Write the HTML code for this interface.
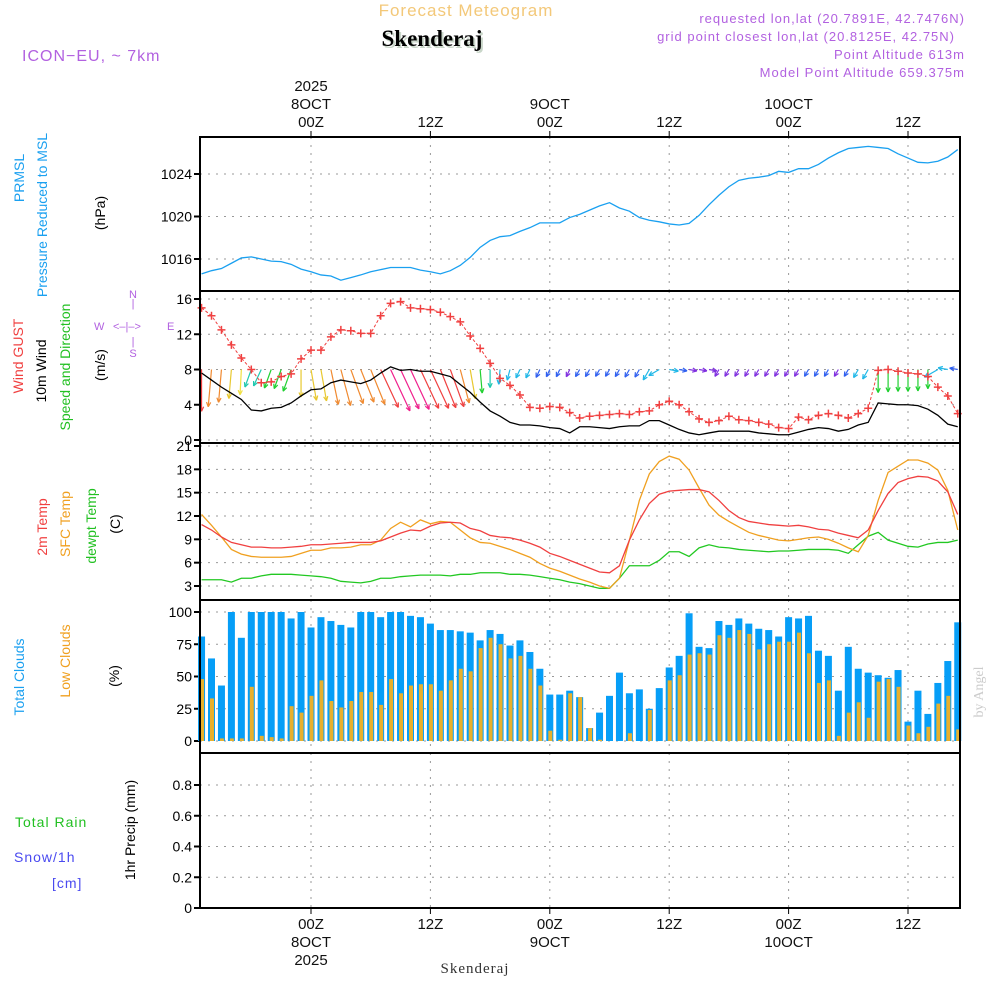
<!DOCTYPE html>
<html><head><meta charset="utf-8"><style>
html,body{margin:0;padding:0;background:#fff;width:1000px;height:1000px;overflow:hidden}
svg{display:block}
text{font-family:"Liberation Sans",sans-serif}
.mono{font-family:"Liberation Sans",sans-serif;letter-spacing:1px}
</style></head><body>
<svg id="chart" width="1000" height="1000" viewBox="0 0 1000 1000" xmlns="http://www.w3.org/2000/svg">
<text x="466" y="16" text-anchor="middle" font-size="17" fill="#f3c879" class="mono">Forecast Meteogram</text>
<text x="434" y="48" text-anchor="middle" font-size="23" font-weight="bold" fill="#c9d6c9" style="font-family:'Liberation Serif',serif">Skenderaj</text>
<text x="432" y="46" text-anchor="middle" font-size="23" font-weight="bold" fill="#000" style="font-family:'Liberation Serif',serif">Skenderaj</text>
<text x="22" y="61" font-size="16" fill="#b261e0" class="mono">ICON−EU, ~ 7km</text>
<g font-size="13" fill="#b261e0" text-anchor="end" class="mono">
<text x="965" y="23">requested lon,lat (20.7891E, 42.7476N)</text>
<text x="955" y="41">grid point closest lon,lat (20.8125E, 42.75N)</text>
<text x="965" y="59">Point Altitude 613m</text>
<text x="965" y="77">Model Point Altitude 659.375m</text>
</g>
<g id="plot"></g>
<g font-size="14">
<text transform="translate(24,178) rotate(-90)" text-anchor="middle" fill="#1aa0f0">PRMSL</text>
<text transform="translate(47,215) rotate(-90)" text-anchor="middle" fill="#1aa0f0">Pressure Reduced to MSL</text>
<text transform="translate(105,213) rotate(-90)" text-anchor="middle" fill="#000">(hPa)</text>
<text transform="translate(23,356) rotate(-90)" text-anchor="middle" fill="#f04040">Wind GUST</text>
<text transform="translate(46,371) rotate(-90)" text-anchor="middle" fill="#000">10m Wind</text>
<text transform="translate(70,367) rotate(-90)" text-anchor="middle" fill="#22c022">Speed and Direction</text>
<text transform="translate(105,365) rotate(-90)" text-anchor="middle" fill="#000">(m/s)</text>
<text transform="translate(47,527) rotate(-90)" text-anchor="middle" fill="#f04040">2m Temp</text>
<text transform="translate(70,524) rotate(-90)" text-anchor="middle" fill="#f0a020">SFC Temp</text>
<text transform="translate(96,526) rotate(-90)" text-anchor="middle" fill="#22c022">dewpt Temp</text>
<text transform="translate(120,524) rotate(-90)" text-anchor="middle" fill="#000">(C)</text>
<text transform="translate(24,677) rotate(-90)" text-anchor="middle" fill="#1aa0f0">Total Clouds</text>
<text transform="translate(70,661) rotate(-90)" text-anchor="middle" fill="#f0a020">Low Clouds</text>
<text transform="translate(119,676) rotate(-90)" text-anchor="middle" fill="#000">(%)</text>
<text x="15" y="827" fill="#22c022" class="mono">Total  Rain</text>
<text x="14" y="862" fill="#4a4af0" class="mono">Snow/1h</text>
<text x="52" y="888" fill="#4a4af0" class="mono">[cm]</text>
<text transform="translate(135,830) rotate(-90)" text-anchor="middle" fill="#000">1hr Precip (mm)</text>
<text transform="translate(983,692) rotate(-90)" text-anchor="middle" fill="#ccc" style="font-family:'Liberation Serif',serif" font-size="14">by Angel</text>
<text x="475" y="973" text-anchor="middle" fill="#333" style="font-family:'Liberation Serif',serif" font-size="15" letter-spacing="1">Skenderaj</text>
</g>
<g fill="#b261e0" font-size="11">
<text x="133" y="298" text-anchor="middle">N</text>
<text x="133" y="307" text-anchor="middle">|</text>
<text x="94" y="330">W</text>
<text x="113" y="330">&lt;–|–&gt;</text>
<text x="167" y="330">E</text>
<text x="133" y="345" text-anchor="middle">|</text>
<text x="133" y="357" text-anchor="middle">S</text>
</g>
</svg>
<script>
const hours=[];for(let h=-11;h<=65;h++)hours.push(h);
const pressure=[1014.6,1014.9,1015.1,1015.6,1016.1,1016.2,1016.0,1015.8,1015.75,1015.5,1015.05,1014.8,1014.5,1014.4,1014.0,1014.25,1014.5,1014.8,1015.0,1015.2,1015.2,1015.2,1014.95,1014.8,1014.6,1014.9,1015.4,1016.15,1017.1,1017.75,1018.1,1018.2,1018.6,1018.95,1019.4,1019.4,1019.4,1019.9,1020.2,1020.6,1021.0,1021.3,1020.8,1020.5,1019.9,1019.65,1019.5,1019.3,1019.2,1019.35,1020.1,1021.1,1022.0,1022.8,1023.4,1023.6,1023.7,1023.85,1024.25,1024.15,1024.5,1024.5,1024.9,1025.5,1026.0,1026.4,1026.5,1026.6,1026.5,1026.4,1025.9,1025.5,1025.1,1025.05,1025.2,1025.6,1026.3];
const gust=[15.0,14.1,12.5,10.8,9.3,8.0,6.5,6.6,7.2,7.5,9.2,10.2,10.2,11.7,12.5,12.4,12.1,12.1,14.1,15.5,15.7,15.0,14.9,14.8,14.5,14.0,13.4,11.8,10.4,8.7,7.0,6.2,5.1,3.7,3.6,3.8,3.7,3.1,2.5,2.7,2.8,2.9,3.0,2.9,3.2,3.3,4.0,4.4,4.0,3.2,2.4,2.0,2.2,2.7,2.3,2.2,2.0,1.8,1.4,1.3,2.6,2.3,2.8,3.0,2.8,2.5,3.0,3.6,7.9,8.0,7.8,7.6,7.5,7.2,6.0,5.0,3.0];
const wind=[7.6,6.8,6.0,5.3,4.6,3.4,3.3,3.6,3.7,4.2,5.0,5.7,5.8,6.5,6.8,6.6,6.4,6.8,7.6,8.3,7.9,8.0,7.8,7.8,7.5,7.2,6.3,5.4,4.3,3.3,2.7,2.0,1.7,1.7,1.6,1.4,1.3,0.8,1.5,1.5,1.4,1.3,1.5,1.6,1.6,2.2,2.2,1.7,1.2,0.8,0.6,0.8,1.0,1.0,1.0,1.0,0.8,0.7,0.6,0.6,0.9,1.2,1.4,1.3,1.0,1.2,1.7,2.0,4.2,4.1,4.0,4.0,3.9,3.5,2.8,1.8,1.5];
const windDir=[0,-5,-5,-5,-3,-20,-25,-20,-20,-20,0,10,10,12,15,20,22,22,25,25,25,25,25,25,22,20,15,10,5,0,-5,-15,-25,-25,-25,-25,-25,-25,-30,-30,-30,-30,-30,-30,-30,-30,-60,80,80,80,80,80,-30,-30,-30,-30,-30,-30,-30,-30,-30,-30,-30,-30,-30,-30,-30,-30,0,0,0,0,0,0,-60,-100,-100];
const t2m=[10.9,10.2,9.3,8.6,8.3,8.0,8.0,7.9,7.9,8.0,8.1,8.3,8.3,8.4,8.5,8.6,8.6,8.6,8.8,9.3,9.8,10.2,10.1,10.7,11.1,11.2,11.1,10.4,10.1,9.5,9.3,9.2,8.9,8.5,8.0,7.2,6.8,6.3,5.8,5.3,4.8,4.7,5.6,8.9,11.5,13.6,14.8,15.2,15.3,15.4,15.4,15.1,14.0,12.7,11.8,11.3,11.1,10.9,10.8,10.7,10.8,10.6,10.3,10.2,9.8,9.5,9.2,10.2,12.7,14.9,16.3,16.8,17.1,17.0,16.5,15.1,12.2];
const tsfc=[12.2,10.8,9.3,7.7,7.1,6.8,6.7,6.7,6.7,6.8,7.2,7.6,7.6,7.9,7.9,8.0,8.3,8.3,8.9,10.4,11.2,10.6,11.5,11.0,11.3,11.2,10.2,9.2,8.6,8.5,8.1,7.7,7.2,6.7,5.9,5.3,4.9,4.4,3.9,3.5,3.0,2.7,4.0,8.9,14.0,17.4,19.0,19.7,19.3,17.9,15.6,13.4,12.1,11.3,10.6,9.9,9.5,9.2,8.9,8.8,9.0,9.2,9.3,9.0,8.5,7.9,7.4,9.5,14.0,17.6,18.4,19.2,19.2,18.8,17.9,15.3,10.2];
const dewpt=[3.8,3.8,3.8,3.5,4.0,4.0,4.3,4.5,4.5,4.5,4.4,4.3,4.2,4.0,3.6,3.5,3.4,3.6,4.0,4.0,4.2,4.3,4.4,4.4,4.4,4.3,4.5,4.5,4.7,4.7,4.7,4.5,4.5,4.4,4.2,4.0,3.8,3.5,3.3,3.0,2.7,2.7,4.0,5.6,5.6,5.6,6.3,7.4,7.4,6.8,7.9,8.3,8.0,7.9,7.7,7.6,7.5,7.4,7.5,7.5,7.6,7.7,7.7,7.7,7.6,7.2,8.3,9.4,9.9,8.9,8.5,8.1,8.0,8.4,8.6,8.6,8.9];
const totalClouds=[81,64,43,100,80,100,100,100,100,95,100,88,96,93,90,88,100,100,96,100,100,97,96,91,86,86,85,84,78,86,83,74,78,69,56,36,36,39,34,10,22,35,53,37,40,25,41,57,66,99,73,72,93,90,95,91,87,86,81,96,95,97,70,66,39,73,56,53,51,49,55,15,39,21,45,62,92];
const lowClouds=[48,33,2,2,2,42,4,3,2,27,22,35,47,31,26,31,38,38,28,48,37,43,44,44,39,47,56,54,72,80,75,64,66,56,43,8,1,37,34,10,1,0,0,6,0,24,0,47,51,67,68,67,82,80,86,83,71,75,77,77,84,68,45,47,4,22,30,18,46,48,42,12,6,11,29,35,9];
const precip=hours.map(()=>0);
const pTicks=[1016,1020,1024], wTicks=[0,4,8,12,16], tTicks=[3,6,9,12,15,18,21], cTicks=[0,25,50,75,100], rTicks=[0,0.2,0.4,0.6,0.8];
const topLabels=[[0,'00Z','8OCT','2025'],[12,'12Z'],[24,'00Z','9OCT'],[36,'12Z'],[48,'00Z','10OCT'],[60,'12Z']];

const NS='http://www.w3.org/2000/svg';
const plot=document.getElementById('plot');
function mk(tag,attrs,parent){const e=document.createElementNS(NS,tag);for(const k in attrs)e.setAttribute(k,attrs[k]);(parent||plot).appendChild(e);return e;}
const X0=200,X1=960;
const xS=h=>311+h*9.95;
const lin=(v0,y0,v1,y1)=>v=>y0+(v-v0)*(y1-y0)/(v1-v0);
const yP=lin(1016,259,1024,174), yW=lin(0,440,16,299), yT=lin(3,586,21,446), yC=lin(0,741,100,612), yR=lin(0,908,0.8,785);
const panels=[[137,291,yP,pTicks,'pressure'],[291,443,yW,wTicks,'wind'],[443,600,yT,tTicks,'temperature'],[600,753,yC,cTicks,'clouds'],[753,908,yR,rTicks,'precip']];
const grid=mk('g',{});


for(const [top,bot,ys,ticks,nm] of panels){
  for(let h=0;h<=60;h+=12){mk('line',{x1:xS(h),x2:xS(h),y1:top,y2:bot,stroke:'#999','stroke-dasharray':'2,6'},grid);}
  for(const t of ticks){
    mk('line',{x1:X0,x2:X1,y1:ys(t),y2:ys(t),stroke:'#999','stroke-dasharray':'2,6'},grid);
    mk('line',{x1:X0-6,x2:X0,y1:ys(t),y2:ys(t),stroke:'#000','stroke-width':2},grid);
    const tx=mk('text',{x:X0-8,y:ys(t)+5,'text-anchor':'end','font-size':14},grid);
    
    
    tx.textContent=t;
  }
}
const cg=mk('g',{});


hours.forEach((h,i)=>{
  const x=xS(h);
  const b=mk('rect',{x:x-3.5,y:yC(totalClouds[i]),width:7,height:yC(0)-yC(totalClouds[i]),fill:'#069ef7'},cg);
  
  
  const l=mk('rect',{x:x-1.5,y:yC(lowClouds[i]),width:4,height:yC(0)-yC(lowClouds[i]),fill:'#e8b02c'},cg);
  
  
});
function line(arr,ys,col,name,w){
  const p=mk('polyline',{points:hours.map((h,i)=>xS(h)+','+ys(arr[i])).join(' '),fill:'none',stroke:col,'stroke-width':w||1.3});
  
  
  return p;
}
line(pressure,yP,'#1aa0f0','pressure-line');
line(precip,yR,'#000','precip-line',1.5).setAttribute('stroke-dasharray','4,2');
function spdCol(s){if(s>=7.9)return '#f0208c';if(s>=7)return '#f04040';if(s>=6)return '#f08a30';if(s>=5)return '#e8c830';if(s>=4.5)return '#f0e040';if(s>=3.5)return '#20d030';if(s>=3)return '#20c8b0';if(s>=1.7)return '#20b8e8';if(s>=1.1)return '#3060f0';return '#8030e0';}
const ag=mk('g',{});


hours.forEach((h,i)=>{
  const L=Math.max(8,wind[i]*5.5),a=windDir[i]*Math.PI/180,x=xS(h),y=yW(8);
  const ex=x+Math.sin(a)*L,ey=y+Math.cos(a)*L,c=spdCol(wind[i]);
  const g=mk('g',{stroke:c,fill:'none','stroke-width':1.2},ag);
  
  
  mk('line',{x1:x,y1:y,x2:ex,y2:ey},g);
  const ang=Math.atan2(ey-y,ex-x);
  for(const d of [2.6,-2.6]) mk('line',{x1:ex,y1:ey,x2:ex-5*Math.cos(ang+d/6),y2:ey-5*Math.sin(ang+d/6)},g);
});
line(wind,yW,'#000','wind-speed-line');
line(gust,yW,'#f04040','wind-gust-line',1).setAttribute('stroke-dasharray','3,2');
const gm=mk('g',{stroke:'#f04040','stroke-width':1.5});


hours.forEach((h,i)=>{const x=xS(h),y=yW(gust[i]);mk('path',{d:`M${x-4} ${y}H${x+4}M${x} ${y-4}V${y+4}`},gm);});
line(dewpt,yT,'#22c822','dewpoint-line');
line(tsfc,yT,'#f0a020','sfc-temp-line');
line(t2m,yT,'#f04040','temp-2m-line');
for(const [top,bot,,,nm] of panels){
  const r=mk('rect',{x:X0,y:top,width:X1-X0,height:bot-top,fill:'none',stroke:'#000','stroke-width':2});
  
  
}
const tg=mk('g',{'font-size':15,'text-anchor':'middle',fill:'#111'});


for(const lab of topLabels){
  const x=xS(lab[0]);
  mk('line',{x1:x,x2:x,y1:131,y2:137,stroke:'#000'},tg);
  mk('line',{x1:x,x2:x,y1:908,y2:914,stroke:'#000'},tg);
  lab.slice(1).forEach((s,j)=>{mk('text',{x:x,y:127-j*18},tg).textContent=s;mk('text',{x:x,y:929+j*18},tg).textContent=s;});
}
</script>
</body></html>
